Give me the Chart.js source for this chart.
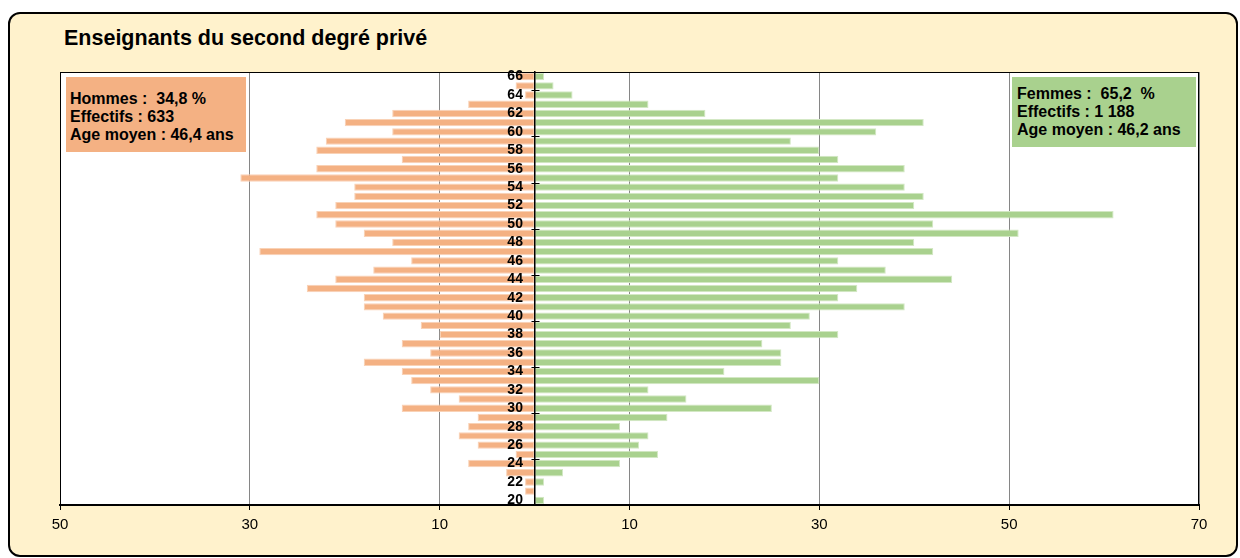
<!DOCTYPE html>
<html>
<head>
<meta charset="utf-8">
<script src="https://cdn.jsdelivr.net/npm/chart.js@4"></script>
<style>
  body { margin: 0; background: #fff; }
  #wrap { position: relative; width: 1240px; height: 558px; overflow: hidden; font-family: "Liberation Sans", Arial, sans-serif; }
  #frame { position: absolute; left: 8px; top: 12px; width: 1230px; height: 545px; box-sizing: border-box;
           border: 2px solid #000; border-radius: 12px; background: #fff2cc; }
  #title { position: absolute; left: 64px; top: 26px; font-size: 21.5px; font-weight: bold; color: #000; }
  .box { position: absolute; font-size: 16px; font-weight: bold; line-height: 18.2px; white-space: pre; color: #000; box-sizing: border-box; }
  #boxH { left: 66px; top: 77px; width: 180px; height: 75px; padding: 13px 0 0 4px; background: #f4b183; }
  #boxF { left: 1012px; top: 77px; width: 184px; height: 70px; padding: 8px 0 0 5px; background: #a9d18e; }
  canvas { position: absolute; left: 0; top: 0; }
</style>
</head>
<body>
<div id="wrap">
  <div id="frame"></div>
  <div id="title">Enseignants du second degré privé</div>
  <canvas id="pyramid" width="1240" height="558"></canvas>
  <div class="box" id="boxH">Hommes :  34,8 %
Effectifs : 633
Age moyen : 46,4 ans</div>
  <div class="box" id="boxF">Femmes :  65,2  %
Effectifs : 1 188
Age moyen : 46,2 ans</div>
</div>
<script>
// ages from bottom (20) to top (66)
const ages = [20, 21, 22, 23, 24, 25, 26, 27, 28, 29, 30, 31, 32, 33, 34, 35, 36, 37, 38, 39,
              40, 41, 42, 43, 44, 45, 46, 47, 48, 49, 50, 51, 52, 53, 54, 55, 56, 57, 58, 59,
              60, 61, 62, 63, 64, 65, 66];
const hommes = [0, 1, 1, 3, 7, 2, 6, 8, 7, 6, 14, 8, 11, 13, 14, 18, 11, 14, 10, 12,
                16, 18, 18, 24, 21, 17, 13, 29, 15, 18, 21, 23, 21, 19, 19, 31, 23, 14, 23, 22,
                15, 20, 15, 7, 1, 2, 2];
const femmes = [1, 0, 1, 3, 9, 13, 11, 12, 9, 14, 25, 16, 12, 30, 20, 26, 26, 24, 32, 27,
                29, 39, 32, 34, 44, 37, 32, 42, 40, 51, 42, 61, 40, 41, 39, 32, 39, 32, 30, 27,
                36, 41, 18, 12, 4, 2, 1];
const xTicks = [-50, -30, -10, 10, 30, 50, 70];

const plotFrame = {
  id: 'plotFrame',
  beforeDraw(chart) {
    const { ctx, chartArea: a } = chart;
    ctx.save();
    ctx.fillStyle = '#fff';
    ctx.fillRect(a.left, a.top, a.right - a.left, a.bottom - a.top);
    ctx.restore();
  },
  afterDraw(chart) {
    const { ctx, chartArea: a, scales: { x, y } } = chart;
    ctx.save();
    ctx.strokeStyle = '#000';
    ctx.lineWidth = 1;
    ctx.strokeRect(a.left + 0.5, a.top + 0.5, a.right - a.left - 1, a.bottom - a.top);
    // small cross ticks every 5 ages on the centre axis
    const x0 = Math.round(x.getPixelForValue(0)) + 0.5;
    for (let i = 5; i < ages.length; i += 5) {
      const py = Math.round(y.getPixelForValue(i - 0.5)) + 0.5;
      ctx.beginPath();
      ctx.moveTo(x0 - 4, py);
      ctx.lineTo(x0 + 4, py);
      ctx.stroke();
    }
    ctx.restore();
  }
};

new Chart(document.getElementById('pyramid'), {
  type: 'bar',
  data: {
    labels: ages,
    datasets: [{
      label: 'Hommes',
      data: hommes.map(v => -v),
      backgroundColor: '#f4b183',
      borderColor: '#f9d2b6',
      borderWidth: 1,
      borderSkipped: false
    }, {
      label: 'Femmes',
      data: femmes,
      backgroundColor: '#a9d18e',
      borderColor: '#d3e8c4',
      borderWidth: 1,
      borderSkipped: false
    }]
  },
  options: {
    indexAxis: 'y',
    responsive: false,
    animation: false,
    barPercentage: 0.8,
    categoryPercentage: 1,
    layout: { padding: { left: 60, right: 41, top: 72, bottom: 18 } },
    plugins: { legend: { display: false }, tooltip: { enabled: false } },
    scales: {
      x: {
        stacked: true,
        min: -50,
        max: 70,
        afterBuildTicks: s => { s.ticks = xTicks.map(v => ({ value: v })); },
        ticks: {
          color: '#000',
          font: { family: 'Liberation Sans', size: 15 },
          padding: 6,
          callback: v => Math.abs(v)
        },
        grid: { color: '#868686', tickColor: '#000', tickLength: 5 },
        border: { color: '#000', width: 2 }
      },
      y: {
        stacked: true,
        reverse: true,
        position: { x: 0 },
        grid: { drawOnChartArea: false, drawTicks: false },
        border: { color: '#000', width: 1.5, z: 1 },
        ticks: {
          z: 1,
          autoSkip: false,
          color: '#000',
          font: { family: 'Liberation Sans', size: 14, weight: 'bold' },
          // trailing spaces keep the labels clear of the centre axis
          callback: (v, i) => (ages[i] % 2 === 0 ? ages[i] + '   ' : '')
        }
      }
    }
  },
  plugins: [plotFrame]
});
</script>
</body>
</html>
